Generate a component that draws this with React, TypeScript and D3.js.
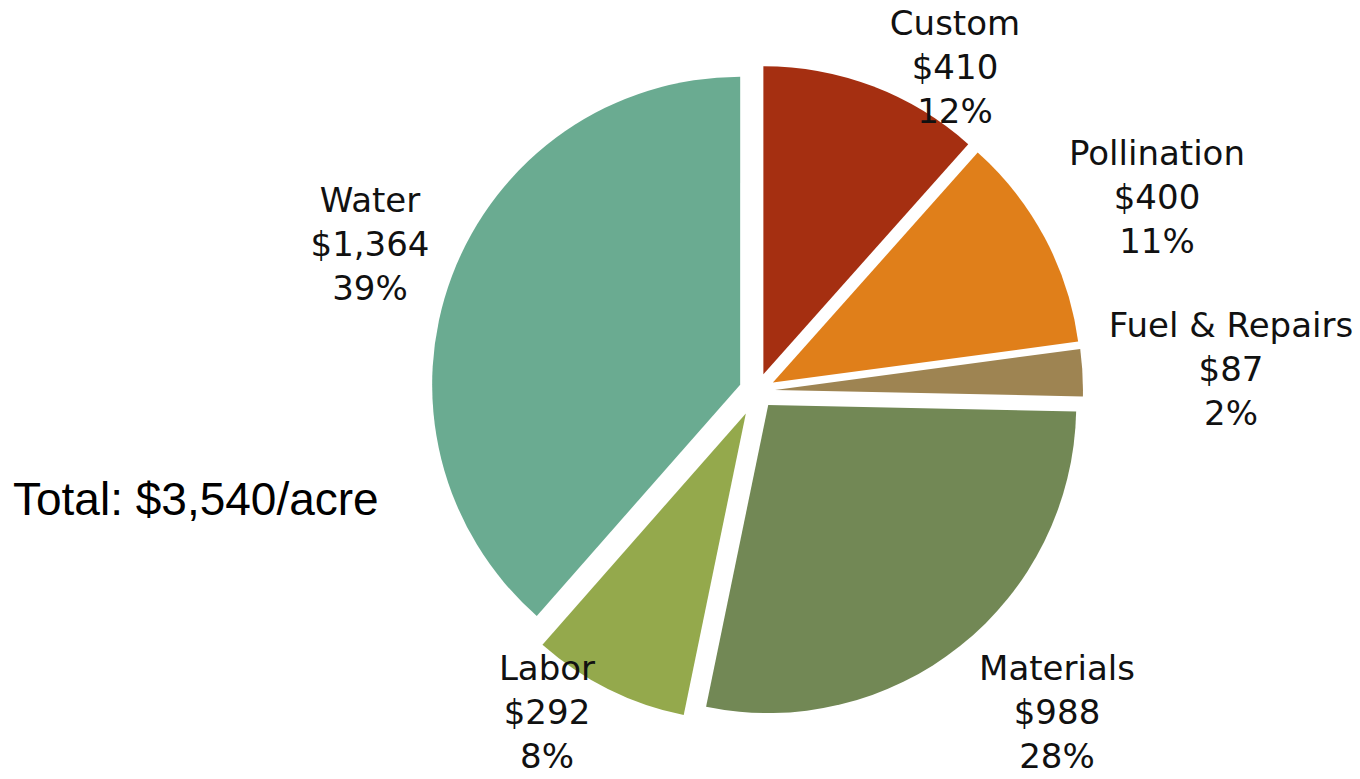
import React from "react";
import * as d3 from "d3";

const categories = ["Custom", "Pollination", "Fuel & Repairs", "Materials", "Labor", "Water"];
const costs = [410, 400, 87, 988, 292, 1364];
const percents = ["12%", "11%", "2%", "28%", "8%", "39%"];
const totalLabel = "Total: $3,540/acre";

const colors = ["#a52f11", "#e07f1a", "#9e8452", "#728855", "#94a94c", "#6aab91"];
const explode = [18, 18, 18, 18, 25, 18];
// label layout: center x and first baseline y (layout, not data)
const labelLayout: [number, number][] = [
  [955, 35],
  [1157, 165],
  [1231, 337],
  [1057, 680],
  [547, 680],
  [370, 212],
];

const W = 1360;
const H = 779;
const cx = 757;
const cy = 391;
const R = 308;

export default function App() {
  const pie = d3
    .pie<number>()
    .sort(null)
    .value((d) => d)
    .startAngle(0)
    .endAngle(2 * Math.PI);
  const arcs = pie(costs);
  const arc = d3.arc<d3.PieArcDatum<number>>().innerRadius(0).outerRadius(R);
  const fmt = d3.format("$,");

  return (
    <svg
      width={W}
      height={H}
      style={{ position: "absolute", left: 0, top: 0, background: "#fff" }}
    >
      <g transform={`translate(${cx},${cy})`}>
        {arcs.map((a, i) => {
          const mid = (a.startAngle + a.endAngle) / 2;
          const dx = Math.sin(mid) * explode[i];
          const dy = -Math.cos(mid) * explode[i];
          return (
            <path
              key={categories[i]}
              d={arc(a) || ""}
              fill={colors[i]}
              transform={`translate(${dx},${dy})`}
            />
          );
        })}
      </g>
      {categories.map((c, i) => {
        const [x, y] = labelLayout[i];
        const lines = [c, fmt(costs[i]), percents[i]];
        return (
          <text
            key={c}
            x={x}
            y={y}
            textAnchor="middle"
            fontFamily="'DejaVu Sans', sans-serif"
            fontSize={34}
            fill="#111"
          >
            {lines.map((l, j) => (
              <tspan key={j} x={x} y={y + j * 44}>
                {l}
              </tspan>
            ))}
          </text>
        );
      })}
      <text
        x={13}
        y={515}
        fontFamily="'Liberation Sans', Arial, sans-serif"
        fontSize={46}
        fill="#000"
      >
        {totalLabel}
      </text>
    </svg>
  );
}
